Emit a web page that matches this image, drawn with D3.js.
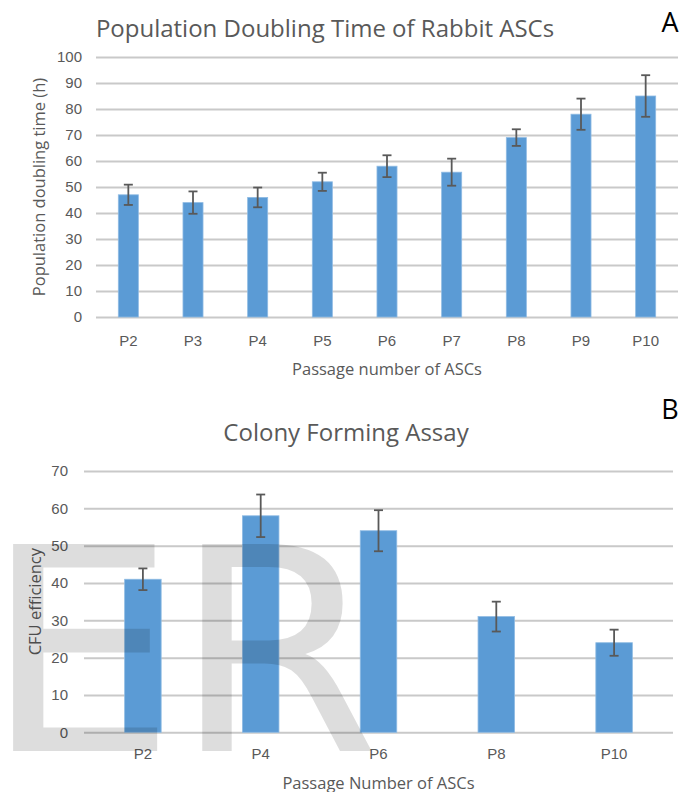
<!DOCTYPE html>
<html>
<head>
<meta charset="utf-8">
<script src="https://cdn.jsdelivr.net/npm/d3@7"></script>
<style>
  body { margin: 0; background: #fff; }
  svg { display: block; font-family: "Open Sans", "Noto Sans", sans-serif; }
  .grid line { stroke: #c9c9c9; stroke-width: 2; }
  .grid path { display: none; }
  .tick text { fill: #595959; font-size: 15px; }
  .xaxis path, .xaxis line { display: none; }
</style>
</head>
<body>
<svg id="chart" width="693" height="792"></svg>
<script>
// panel A: population doubling time
const passagesA = ["P2", "P3", "P4", "P5", "P6", "P7", "P8", "P9", "P10"];
const doublingTime = [47, 44, 46, 52, 58, 55.7, 69, 78, 85];
const doublingErr = [3.9, 4.3, 3.8, 3.5, 4.2, 5.2, 3.2, 6, 8];
const ticksA = [0, 10, 20, 30, 40, 50, 60, 70, 80, 90, 100];

// panel B: colony forming assay
const passagesB = ["P2", "P4", "P6", "P8", "P10"];
const cfuEfficiency = [41, 58, 54, 31, 24];
const cfuErr = [2.9, 5.7, 5.5, 4, 3.5];
const ticksB = [0, 10, 20, 30, 40, 50, 60, 70];

const BAR = "#5b9bd5";
const ERR = "#595959";
const TEXT = "#595959";

const svg = d3.select("#chart");

// draws one excel-like bar chart with error bars
function drawPanel(cfg){
    const x = d3.scaleBand()
        .domain(cfg.cats)
        .range([cfg.left, cfg.right])
        .paddingInner(0.69)
        .paddingOuter(0.345);

    const y = d3.scaleLinear()
        .domain([0, d3.max(cfg.ticks)])
        .range([cfg.bottom, cfg.top]);

    // gridlines + y tick labels
    svg.append("g")
        .attr("class", "grid")
        .attr("transform", `translate(${cfg.left},0)`)
        .call(d3.axisLeft(y).tickValues(cfg.ticks).tickSize(-(cfg.right - cfg.left)).tickPadding(cfg.yPad));

    // x tick labels
    svg.append("g")
        .attr("class", "xaxis")
        .attr("transform", `translate(0,${cfg.bottom})`)
        .call(d3.axisBottom(x).tickSize(0).tickPadding(cfg.xPad));

    const data = cfg.cats.map((c, i) => ({ c, v: cfg.values[i], e: cfg.errs[i] }));

    svg.append("g").selectAll("rect")
        .data(data)
        .join("rect")
        .attr("x", d => x(d.c))
        .attr("width", x.bandwidth())
        .attr("y", d => y(d.v))
        .attr("height", d => y(0) - y(d.v))
        .attr("fill", BAR)
        .attr("stroke", "#8fbbe3")
        .attr("stroke-width", 0.8);

    const err = svg.append("g")
        .attr("stroke", ERR)
        .attr("stroke-width", 1.8)
        .selectAll("g")
        .data(data)
        .join("g");
    const cx = d => x(d.c) + x.bandwidth() / 2;
    err.append("line")
        .attr("x1", cx).attr("x2", cx)
        .attr("y1", d => y(d.v + d.e)).attr("y2", d => y(d.v - d.e));
    err.append("line")
        .attr("x1", d => cx(d) - 4.5).attr("x2", d => cx(d) + 4.5)
        .attr("y1", d => y(d.v + d.e)).attr("y2", d => y(d.v + d.e));
    err.append("line")
        .attr("x1", d => cx(d) - 4.5).attr("x2", d => cx(d) + 4.5)
        .attr("y1", d => y(d.v - d.e)).attr("y2", d => y(d.v - d.e));

    // title
    svg.append("text")
        .attr("x", cfg.titleX).attr("y", cfg.titleY)
        .attr("text-anchor", "middle")
        .attr("fill", TEXT)
        .style("font-size", "24px")
        .text(cfg.title);

    // x axis label
    svg.append("text")
        .attr("x", (cfg.left + cfg.right) / 2).attr("y", cfg.xLabelY)
        .attr("text-anchor", "middle")
        .attr("fill", TEXT)
        .style("font-size", "16.5px")
        .text(cfg.xLabel);

    // y axis label
    svg.append("text")
        .attr("transform", `translate(${cfg.yLabelX},${(cfg.top + cfg.bottom) / 2}) rotate(-90)`)
        .attr("text-anchor", "middle")
        .attr("fill", TEXT)
        .style("font-size", "16.5px")
        .text(cfg.yLabel);

    // panel letter
    svg.append("text")
        .attr("x", 670).attr("y", cfg.letterY)
        .attr("text-anchor", "middle")
        .attr("fill", "#000")
        .style("font-size", "27px")
        .text(cfg.letter);
}

drawPanel({
    cats: passagesA, values: doublingTime, errs: doublingErr, ticks: ticksA,
    left: 96, right: 678, top: 57, bottom: 317,
    yPad: 14, xPad: 18,
    title: "Population Doubling Time of Rabbit ASCs", titleX: 325, titleY: 37,
    xLabel: "Passage number of ASCs", xLabelY: 375,
    yLabel: "Population doubling time (h)", yLabelX: 45,
    letter: "A", letterY: 32
});

drawPanel({
    cats: passagesB, values: cfuEfficiency, errs: cfuErr, ticks: ticksB,
    left: 84, right: 673, top: 471, bottom: 732.3,
    yPad: 16, xPad: 16.5,
    title: "Colony Forming Assay", titleX: 346, titleY: 441,
    xLabel: "Passage Number of ASCs", xLabelY: 789,
    yLabel: "CFU efficiency", yLabelX: 41,
    letter: "B", letterY: 419
});

// "ER" watermark over panel B
const mark = svg.append("g")
    .attr("fill", "#000")
    .attr("fill-opacity", 0.135)
    .style("font-family", "'DejaVu Sans', sans-serif")
    .style("font-size", "284px");
mark.append("text")
    .attr("transform", "translate(-17,751) scale(1.08,1)")
    .text("E");
mark.append("text")
    .attr("transform", "translate(173,751) scale(1.05,1)")
    .text("R");
</script>
</body>
</html>
